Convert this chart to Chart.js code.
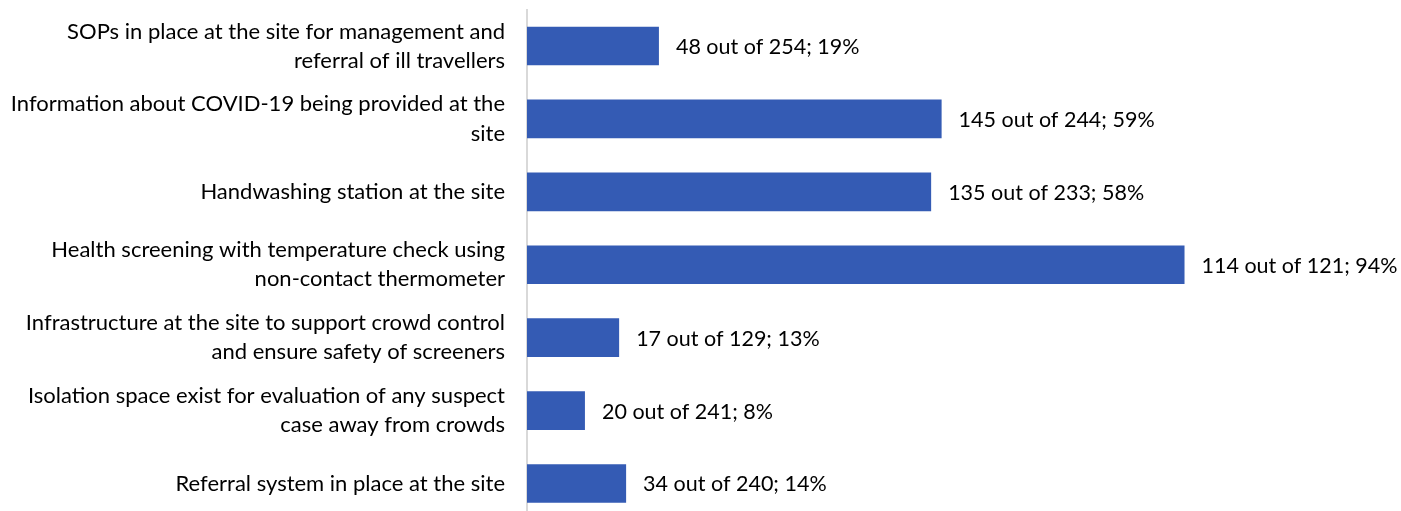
<!DOCTYPE html>
<html>
<head>
<meta charset="utf-8">
<script src="https://cdn.jsdelivr.net/npm/chart.js@4/dist/chart.umd.min.js"></script>
<style>
html,body{margin:0;padding:0;background:#fff;overflow:hidden;}
canvas{display:block;}
</style>
</head>
<body>
<canvas id="c" width="1401" height="521" style="width:1401px;height:521px;"></canvas>
<script>
const categories = [
  ["SOPs in place at the site for management and", "referral of ill travellers"],
  ["Information about COVID-19 being provided at the", "site"],
  ["Handwashing station at the site"],
  ["Health screening with temperature check using", "non-contact thermometer"],
  ["Infrastructure at the site to support crowd control", "and ensure safety of screeners"],
  ["Isolation space exist for evaluation of any suspect", "case away from crowds"],
  ["Referral system in place at the site"]
];
const yesCounts = [48, 145, 135, 114, 17, 20, 34];
const totalCounts = [254, 244, 233, 121, 129, 241, 240];
const percentValues = [18.9, 59.4, 57.9, 94.2, 13.2, 8.3, 14.2];
const percentLabels = ["19%", "59%", "58%", "94%", "13%", "8%", "14%"];

const FONT = "Lato, 'Open Sans', sans-serif";
const FSIZE = 21.5;
const TICK_FSIZE = 22;

const valueLabelPlugin = {
  id: 'valueLabels',
  afterDatasetsDraw(chart) {
    const ctx = chart.ctx;
    const meta = chart.getDatasetMeta(0);
    ctx.save();
    ctx.font = FSIZE + "px " + FONT;
    ctx.fillStyle = "#000";
    ctx.textAlign = "left";
    ctx.textBaseline = "middle";
    meta.data.forEach((bar, i) => {
      const txt = yesCounts[i] + " out of " + totalCounts[i] + "; " + percentLabels[i];
      ctx.fillText(txt, bar.x + 17, bar.y + 1);
    });
    ctx.restore();
  }
};

new Chart(document.getElementById('c'), {
  type: 'bar',
  data: {
    labels: categories,
    datasets: [{
      data: percentValues,
      backgroundColor: '#345BB4',
      borderWidth: 0,
      barPercentage: 0.53,
      categoryPercentage: 1.0
    }]
  },
  options: {
    indexAxis: 'y',
    responsive: false,
    maintainAspectRatio: false,
    animation: false,
    devicePixelRatio: 1,
    layout: { padding: { top: 9.5, bottom: 1, right: 176, left: 0 } },
    plugins: { legend: { display: false }, tooltip: { enabled: false } },
    scales: {
      x: {
        display: false,
        min: 0,
        max: 100
      },
      y: {
        afterFit(scale) {
          scale.width = 527;
          scale.paddingTop = 0;
          scale.paddingBottom = 0;
        },
        grid: { display: false, drawTicks: false },
        border: { display: true, color: '#D9D9D9', width: 2 },
        ticks: {
          padding: 22,
          color: '#000',
          font: { family: FONT, size: TICK_FSIZE, lineHeight: 1.32 }
        }
      }
    }
  },
  plugins: [valueLabelPlugin]
});
</script>
</body>
</html>
